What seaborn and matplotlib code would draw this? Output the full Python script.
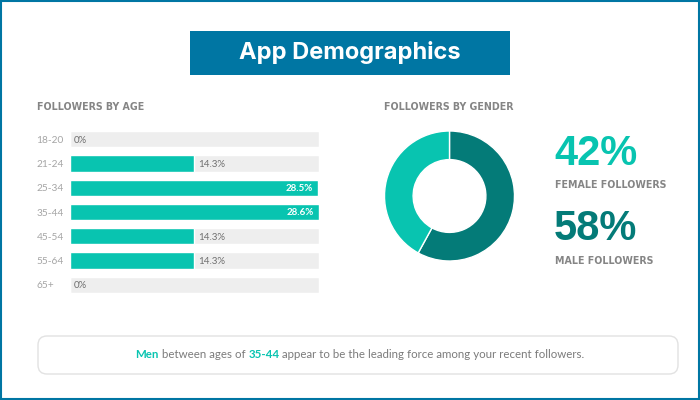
import matplotlib
matplotlib.use('Agg')
import matplotlib.pyplot as plt
from matplotlib.patches import FancyBboxPatch, Rectangle
import pandas as pd
import seaborn as sns

#Chart values
age_groups = ['18-20', '21-24', '25-34', '35-44', '45-54', '55-64', '65+']
age_values = [0, 14.3, 28.5, 28.6, 14.3, 14.3, 0]
age_labels = ['0%', '14.3%', '28.5%', '28.6%', '14.3%', '14.3%', '0%']
gender_names = ['Male', 'Female']
gender_values = [58, 42]

TEAL = '#08c4b0'
DARK_TEAL = '#047b78'
BLUE = '#0076a3'
GREY = '#7b7b7b'
W, H = 700, 400

sns.set_theme(style='white')
plt.rcParams['font.family'] = ['Lato', 'DejaVu Sans']

fig = plt.figure(figsize=(7, 4), dpi=100)

# page layer in pixel coordinates
page = fig.add_axes([0, 0, 1, 1])
page.set_xlim(0, W)
page.set_ylim(H, 0)
page.axis('off')
page.add_patch(Rectangle((0.5, 0.5), W - 1.5, H - 1.5, fc='none', ec=BLUE, lw=1.5))
page.add_patch(Rectangle((190, 31), 320, 44, fc=BLUE, ec='none'))
page.text(350, 52.5, 'App Demographics', color='white', fontsize=17, fontweight='bold',
          family=['Inter', 'DejaVu Sans'], ha='center', va='center')

for x, y, s in [(37, 107.5, 'FOLLOWERS BY AGE'), (384, 107.5, 'FOLLOWERS BY GENDER'),
                (555, 185, 'FEMALE FOLLOWERS'), (555, 260.5, 'MALE FOLLOWERS')]:
    page.text(x, y, s, color='#858585', fontsize=6.85, fontweight='bold', va='center',
              family=['DejaVu Sans'])

page.text(554, 165, '42%', color=TEAL, fontsize=30, fontweight='bold', va='baseline',
          family=['Liberation Sans', 'DejaVu Sans'])
page.text(554, 239.5, '58%', color=DARK_TEAL, fontsize=30, fontweight='bold', va='baseline',
          family=['Liberation Sans', 'DejaVu Sans'])

# callout box
page.add_patch(FancyBboxPatch((38, 336), 640, 38, boxstyle='round,pad=0,rounding_size=9',
                              fc='white', ec='#e2e2e2', lw=1))
parts = [('Men', TEAL, 'bold'), (' between ages of ', GREY, 'normal'), ('35-44', TEAL, 'bold'),
         (' appear to be the leading force among your recent followers.', GREY, 'normal')]
fig.canvas.draw()
renderer = fig.canvas.get_renderer()
widths = []
items = []
for s, c, w in parts:
    t = page.text(0, 355, s.replace(' ', '\u00a0'), color=c, fontweight=w, fontsize=8.27, va='center')
    items.append(t)
    widths.append(t.get_window_extent(renderer).width)
x = 137 + (583 - 137 - sum(widths)) / 2
for t, w in zip(items, widths):
    t.set_x(x)
    x += w

# age bars
ax = fig.add_axes([69.6 / W, 1 - 297 / H, 249.4 / W, 170 / H])
df = pd.DataFrame({'age': age_groups, 'value': age_values})
track = df.assign(value=max(age_values))
sns.barplot(data=track, x='value', y='age', color='#eeeeee', saturation=1, width=0.67, ax=ax)
sns.barplot(data=df, x='value', y='age', color=TEAL, saturation=1, width=0.67, ax=ax)
ax.set_xlim(0, max(age_values))
ax.set_ylim(6.5, -0.5)
ax.set_xlabel('')
ax.set_ylabel('')
ax.set_xticks([])
ax.tick_params(axis='y', length=0, pad=23.8, labelsize=7.3, labelcolor='#a5a5a5')
for lab in ax.get_yticklabels():
    lab.set_ha('left')
sns.despine(ax=ax, left=True, bottom=True)
ax.patch.set_alpha(0)
for i, (v, lab) in enumerate(zip(age_values, age_labels)):
    if v > 20:
        ax.annotate(lab, (v, i), xytext=(-3.5, -0.5), textcoords='offset points', ha='right',
                    va='center', color='white', fontsize=7, fontweight='bold')
    else:
        ax.annotate(lab, (v, i), xytext=(3, -0.7), textcoords='offset points', ha='left',
                    va='center', color='#6f6f6f', fontsize=7)

# gender donut
ax2 = fig.add_axes([384.5 / W, 1 - 261 / H, 130 / W, 130 / H])
ax2.pie(gender_values, colors=sns.color_palette([DARK_TEAL, TEAL]), startangle=90,
        counterclock=False, radius=1, wedgeprops={'width': 0.44})
ax2.set_xlim(-1, 1)
ax2.set_ylim(-1, 1)

fig.savefig('out.png', dpi=100)
